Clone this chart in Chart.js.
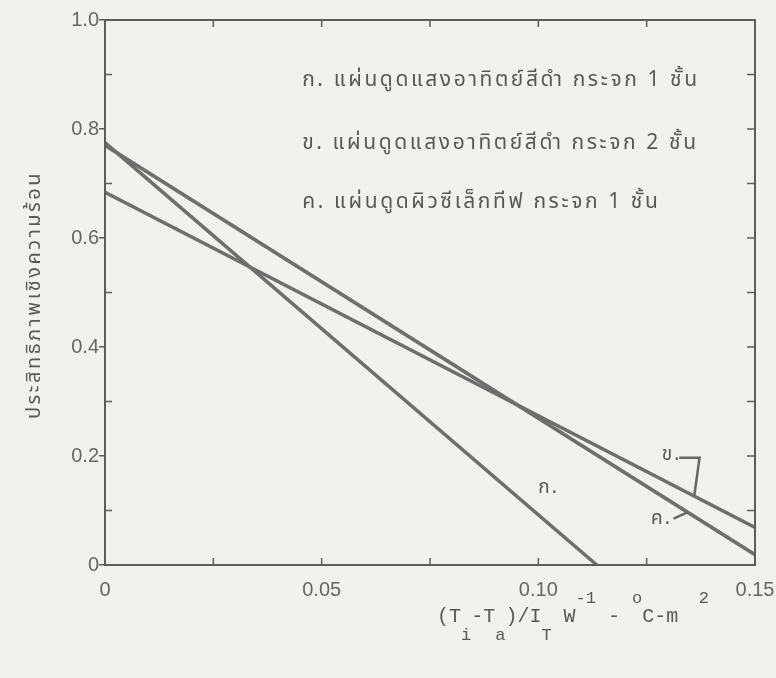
<!DOCTYPE html>
<html lang="th">
<head>
<meta charset="UTF-8">
<title>ประสิทธิภาพเชิงความร้อน</title>
<script src="https://cdn.jsdelivr.net/npm/chart.js"></script>
<style>
  body { margin: 0; padding: 0; background: #f1f1ef; }
  #wrap { width: 776px; height: 678px; }
</style>
</head>
<body>
<div id="wrap"><canvas id="effChart" width="776" height="678"></canvas></div>
<script>
// series values (x = (Ti-Ta)/IT, y = efficiency)
const kaX = [0, 0.1135];
const kaY = [0.775, 0];
const khaX = [0, 0.15];
const khaY = [0.77, 0.019];
const khoX = [0, 0.15];
const khoY = [0.684, 0.069];

const seriesNames = [
  'ก. แผ่นดูดแสงอาทิตย์สีดำ กระจก 1 ชั้น',
  'ข. แผ่นดูดแสงอาทิตย์สีดำ กระจก 2 ชั้น',
  'ค. แผ่นดูดผิวซีเล็กทีฟ กระจก 1 ชั้น'
];
const shortNames = ['ก.', 'ข.', 'ค.'];

const xTicks = [0, 0.05, 0.10, 0.15];
const xTickLabels = ['0', '0.05', '0.10', '0.15'];
const yTicks = [0, 0.2, 0.4, 0.6, 0.8, 1.0];
const yTickLabels = ['0', '0.2', '0.4', '0.6', '0.8', '1.0'];

const yTitle = 'ประสิทธิภาพเชิงความร้อน';

const ink = '#5c5c5c';
const lineInk = '#6e6e6e';
const thaiFont = '"Tlwg Typo", "Noto Sans Thai", "Loma", "Garuda", "Noto Sans", sans-serif';
const monoFont = '"Liberation Mono", "DejaVu Sans Mono", monospace';

function pts(xs, ys) {
  return xs.map((x, i) => ({ x: x, y: ys[i] }));
}

// paper background, frame, inward ticks and hand-written annotations
const paperPlugin = {
  id: 'paper',
  beforeDraw(chart) {
    const c = chart.ctx;
    c.save();
    c.fillStyle = '#f1f1ef';
    c.fillRect(0, 0, chart.width, chart.height);
    c.restore();
  },
  afterDraw(chart) {
    const c = chart.ctx;
    const a = chart.chartArea;
    const xs = chart.scales.x, ys = chart.scales.y;
    c.save();
    c.strokeStyle = ink;
    c.lineWidth = 2;
    c.strokeRect(a.left, a.top, a.right - a.left, a.bottom - a.top);

    // inward minor ticks
    c.lineWidth = 1.5;
    for (let v = 0.025; v < 0.15; v += 0.025) {
      const px = xs.getPixelForValue(v);
      c.beginPath(); c.moveTo(px, a.bottom); c.lineTo(px, a.bottom - 7); c.stroke();
      c.beginPath(); c.moveTo(px, a.top); c.lineTo(px, a.top + 7); c.stroke();
    }
    for (let v = 0.1; v < 1.0; v += 0.1) {
      const py = ys.getPixelForValue(v);
      c.beginPath(); c.moveTo(a.right, py); c.lineTo(a.right - 8, py); c.stroke();
      if (Math.round(v * 10) % 2 === 1) {
        c.beginPath(); c.moveTo(a.left, py); c.lineTo(a.left + 7, py); c.stroke();
      }
    }

    // legend text inside the plot
    c.fillStyle = '#585858';
    c.font = '21px ' + thaiFont;
    c.letterSpacing = '2.6px';
    c.textBaseline = 'middle';
    c.textAlign = 'left';
    const lx = xs.getPixelForValue(0.0455);
    [0.887, 0.771, 0.663].forEach((v, i) => {
      c.fillText(seriesNames[i], lx, ys.getPixelForValue(v));
    });

    // labels next to the lines
    c.font = '19px ' + thaiFont;
    c.letterSpacing = '2px';
    c.fillText(shortNames[0], xs.getPixelForValue(0.1), ys.getPixelForValue(0.14));
    c.fillText(shortNames[1], xs.getPixelForValue(0.1285), ys.getPixelForValue(0.2));
    c.fillText(shortNames[2], xs.getPixelForValue(0.126), ys.getPixelForValue(0.083));
    c.letterSpacing = '0px';

    // small pointer strokes
    c.strokeStyle = '#666';
    c.lineWidth = 2.5;
    c.beginPath();
    c.moveTo(xs.getPixelForValue(0.1325), ys.getPixelForValue(0.197));
    c.lineTo(xs.getPixelForValue(0.1372), ys.getPixelForValue(0.197));
    c.lineTo(xs.getPixelForValue(0.136), ys.getPixelForValue(0.128));
    c.stroke();
    c.beginPath();
    c.moveTo(xs.getPixelForValue(0.1312), ys.getPixelForValue(0.085));
    c.lineTo(xs.getPixelForValue(0.1345), ys.getPixelForValue(0.097));
    c.stroke();

    // y title, rotated
    c.fillStyle = '#585858';
    c.font = '20px ' + thaiFont;
    c.letterSpacing = '2.5px';
    c.translate(36, 295);
    c.rotate(-Math.PI / 2);
    c.textAlign = 'center';
    c.fillText(yTitle, 0, 0);
    c.restore();

    // x title with sub/superscripts
    c.save();
    c.fillStyle = '#585858';
    c.textBaseline = 'alphabetic';
    const parts = [
      ['(T', 0], ['i', 1], ['-T', 0], ['a', 1], [')/I', 0], ['T', 1],
      [' W', 0], ['-1', -1], [' - ', 0], ['o', -1], ['C-m', 0], ['  2', -1]
    ];
    let x = 437;
    const base = 622;
    parts.forEach(([t, k]) => {
      c.font = (k === 0 ? '20px ' : '17px ') + monoFont;
      const dy = k === 1 ? 18 : (k === -1 ? -19 : 0);
      c.fillText(t, x, base + dy);
      x += c.measureText(t).width;
    });
    c.restore();
  }
};

const common = { borderColor: lineInk, borderWidth: 3.5, pointRadius: 0, fill: false, tension: 0 };

new Chart(document.getElementById('effChart'), {
  type: 'scatter',
  data: {
    datasets: [
      Object.assign({ label: seriesNames[0], data: pts(kaX, kaY), showLine: true }, common),
      Object.assign({ label: seriesNames[1], data: pts(khaX, khaY), showLine: true }, common),
      Object.assign({ label: seriesNames[2], data: pts(khoX, khoY), showLine: true }, common)
    ]
  },
  options: {
    responsive: false,
    animation: false,
    layout: { padding: { left: 0, top: 20, right: 0, bottom: 0 } },
    plugins: { legend: { display: false }, tooltip: { enabled: false } },
    scales: {
      x: {
        type: 'linear', min: 0, max: 0.15,
        afterBuildTicks: s => { s.ticks = xTicks.map(v => ({ value: v })); },
        afterFit: s => { s.height = 113; s.paddingRight = 21; s.paddingLeft = 0; },
        grid: { display: true, drawOnChartArea: false, drawTicks: false },
        border: { display: true, color: ink, width: 2 },
        ticks: {
          padding: 13, color: '#666',
          font: { family: 'Liberation Sans, Arial, sans-serif', size: 20 },
          callback: (v) => xTickLabels[xTicks.indexOf(v)]
        }
      },
      y: {
        type: 'linear', min: 0, max: 1.0,
        afterBuildTicks: s => { s.ticks = yTicks.map(v => ({ value: v })); },
        afterFit: s => { s.width = 105; },
        grid: { display: true, drawOnChartArea: false, drawTicks: true, tickLength: 6, color: ink, lineWidth: 1.5 },
        border: { display: true, color: ink, width: 2 },
        ticks: {
          padding: 0, color: '#666',
          font: { family: 'Liberation Sans, Arial, sans-serif', size: 20 },
          callback: (v) => yTickLabels[yTicks.findIndex(t => Math.abs(t - v) < 1e-9)]
        }
      }
    }
  },
  plugins: [paperPlugin]
});
</script>
</body>
</html>
